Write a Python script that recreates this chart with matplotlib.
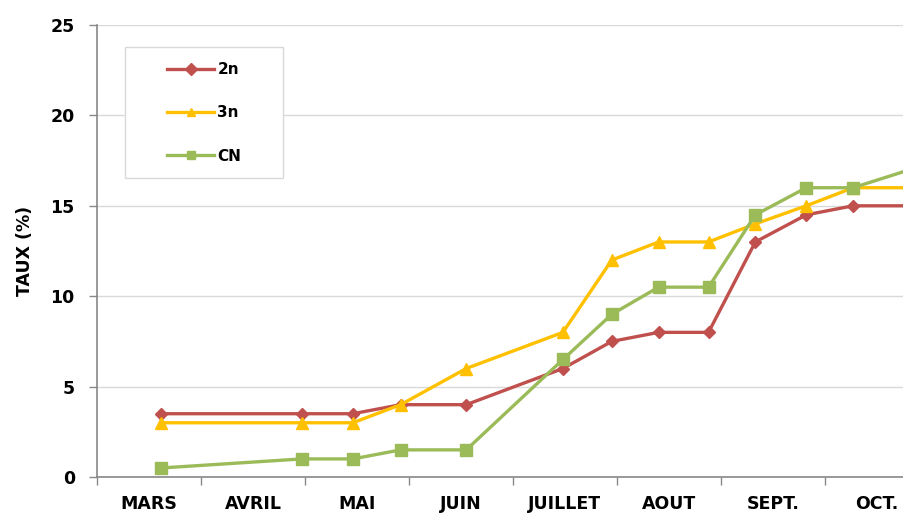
import numpy as np
import matplotlib
matplotlib.use("Agg")
import matplotlib.pyplot as plt
from matplotlib.patches import Rectangle
from matplotlib.ticker import FixedLocator, NullFormatter

# months on the axis
mois = ["MARS", "AVRIL", "MAI", "JUIN", "JUILLET", "AOUT", "SEPT.", "OCT."]

# sampling dates, in months counted from the 1st of March
dates = [0.62, 1.97, 2.46, 2.92, 3.55, 4.48, 4.95, 5.40, 5.88, 6.33, 6.82, 7.27, 8.2]

taux_2n = [3.5, 3.5, 3.5, 4, 4, 6, 7.5, 8, 8, 13, 14.5, 15, 15]
taux_3n = [3, 3, 3, 4, 6, 8, 12, 13, 13, 14, 15, 16, 16]
taux_cn = [0.5, 1, 1, 1.5, 1.5, 6.5, 9, 10.5, 10.5, 14.5, 16, 16, 17.7]

rouge = "#C0504D"
jaune = "#FFC000"
vert = "#9BBB59"

W, H = 904, 514
x0, y0, ytop = 97, 477, 25
fig = plt.figure(figsize=(W/100, H/100), dpi=100)
ax = fig.add_axes([x0/W, 1-y0/H, 1-x0/W, (y0-ytop)/H])
aw, ah = W - x0, y0 - ytop

ax.plot(dates, taux_2n, color=rouge, lw=2.4, marker="D", ms=6, label="2n")
ax.plot(dates, taux_3n, color=jaune, lw=2.4, marker="^", ms=8, label="3n")
ax.plot(dates, taux_cn, color=vert, lw=2.4, marker="s", ms=8, label="CN")

ax.set_xlim(0, aw/104.0)
ax.set_ylim(0, 25)

ax.set_yticks([0, 5, 10, 15, 20, 25])
ax.set_yticklabels(["0", "5", "10", "15", "20", "25"], fontsize=12.5, fontweight="bold")
ax.tick_params(axis="y", length=6, width=1, color="#888888", pad=10)
ax.yaxis.grid(True, color="#D9D9D9", lw=1)
ax.set_axisbelow(True)

ax.xaxis.set_major_locator(FixedLocator(np.arange(0, 9)))
ax.xaxis.set_major_formatter(NullFormatter())
ax.xaxis.set_minor_locator(FixedLocator(np.arange(len(mois)) + 0.5))
ax.set_xticklabels(mois, minor=True, fontsize=12.5, fontweight="bold")
ax.tick_params(axis="x", which="major", length=6, width=1, color="#888888")
ax.tick_params(axis="x", which="minor", length=0, pad=13)

for s in ["top", "right"]:
    ax.spines[s].set_visible(False)
for s in ["left", "bottom"]:
    ax.spines[s].set_color("#888888")
    ax.spines[s].set_linewidth(1.2)

ax.set_ylabel("TAUX (%)", fontsize=12.5, fontweight="bold", labelpad=12)

# legend box drawn by hand (wide, Excel-like)
ax.add_patch(Rectangle(((125-x0)/aw, (y0-178)/ah), 158/aw, 131/ah, transform=ax.transAxes,
                       facecolor="white", edgecolor="#D9D9D9", lw=1, zorder=4))
leg = ax.legend(loc="upper left", bbox_to_anchor=((167-x0)/aw, (y0-62)/ah), frameon=False,
                borderpad=0, labelspacing=1.85, handlelength=3.1, handletextpad=0.2,
                borderaxespad=0, prop={"weight": "bold", "size": 11})
leg.set_zorder(5)
for h in leg.legend_handles:
    h.set_markersize(6)

fig.savefig("out.png", dpi=100)
